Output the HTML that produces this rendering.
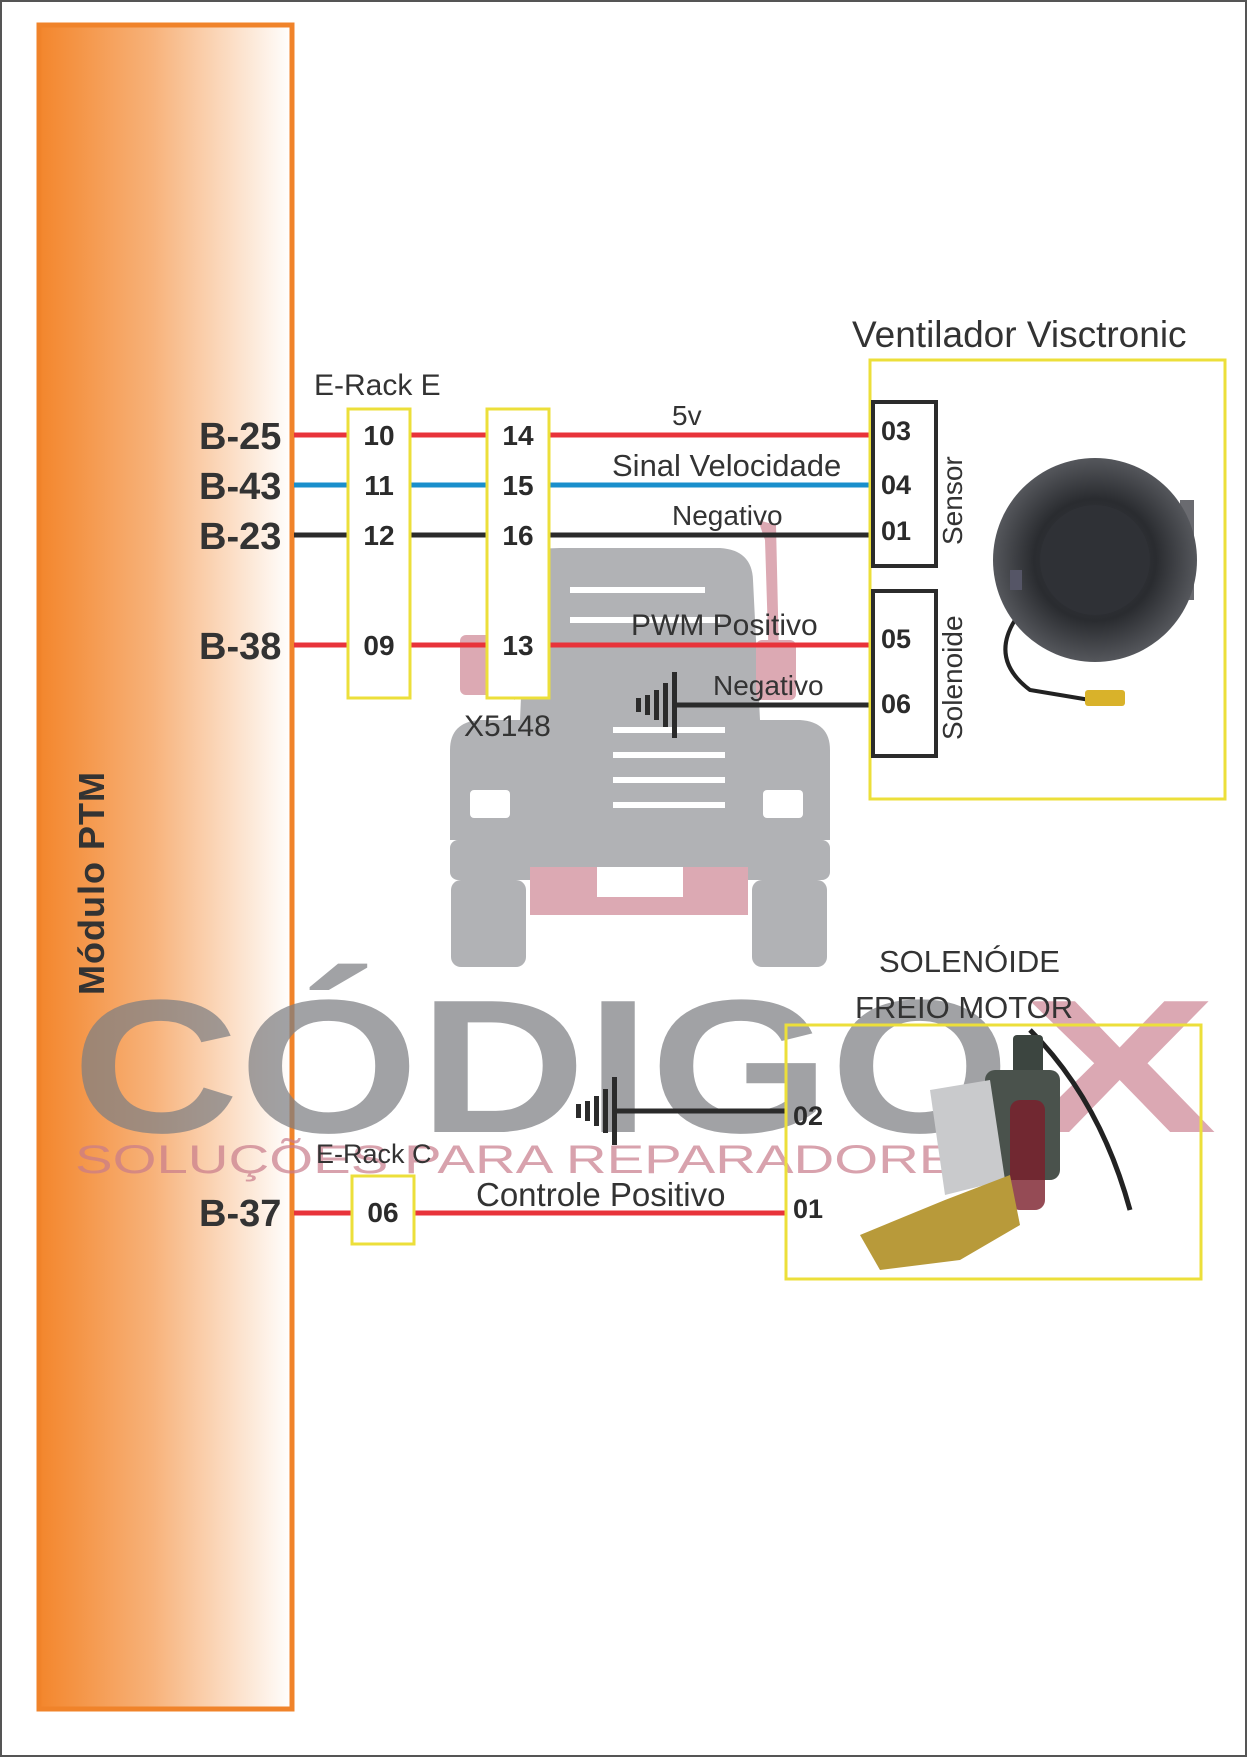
<!DOCTYPE html>
<html><head><meta charset="utf-8"><style>
html,body{margin:0;padding:0;background:#fff}
svg{display:block}
text{font-family:"Liberation Sans",Arial,sans-serif}
</style></head><body>
<svg width="1247" height="1757" viewBox="0 0 1247 1757" xmlns="http://www.w3.org/2000/svg">
<defs>
<linearGradient id="og" x1="0" x2="1" y1="0" y2="0">
<stop offset="0" stop-color="#f3862c"/>
<stop offset="0.45" stop-color="#f7b27a"/>
<stop offset="1" stop-color="#ffffff"/>
</linearGradient>
<radialGradient id="fan" cx="0.5" cy="0.5" r="0.5">
<stop offset="0" stop-color="#3a3c42"/>
<stop offset="0.6" stop-color="#2a2c30"/>
<stop offset="1" stop-color="#55575c"/>
</radialGradient>
</defs>
<rect x="1" y="1" width="1245" height="1755" fill="#fff" stroke="#555" stroke-width="2"/>
<rect x="39" y="25" width="253" height="1684" fill="url(#og)"/>
<rect x="39" y="25" width="253" height="1684" fill="none" stroke="#f0832a" stroke-width="5"/>
<text transform="translate(104,995) rotate(-90)" font-size="36" font-weight="bold" fill="#333" letter-spacing="1">Módulo PTM</text>

<g opacity="0.9">
<path d="M527 560 Q530 548 560 548 L720 548 Q752 550 753 580 L760 720 L800 720 Q830 722 830 750 L830 840 L450 840 L450 750 Q450 722 480 720 L520 720 Z" fill="#a9aaad"/>
<rect x="450" y="840" width="380" height="40" rx="8" fill="#a9aaad"/>
<rect x="451" y="880" width="75" height="87" rx="10" fill="#a9aaad"/>
<rect x="752" y="880" width="75" height="87" rx="10" fill="#a9aaad"/>
<rect x="530" y="867" width="218" height="48" fill="#d9a0ab"/>
<rect x="597" y="867" width="86" height="30" fill="#fff"/>
<rect x="470" y="790" width="40" height="28" rx="4" fill="#fff"/>
<rect x="763" y="790" width="40" height="28" rx="4" fill="#fff"/>
<g stroke="#fff" stroke-width="6">
<line x1="613" y1="730" x2="725" y2="730"/><line x1="613" y1="755" x2="725" y2="755"/><line x1="613" y1="780" x2="725" y2="780"/><line x1="613" y1="805" x2="725" y2="805"/>
<line x1="570" y1="590" x2="705" y2="590"/><line x1="570" y1="620" x2="720" y2="620"/>
</g>
<path d="M497 515 L500 690 L515 700 L515 640 L510 520 Z" fill="#d9a0ab"/>
<rect x="460" y="635" width="35" height="60" rx="6" fill="#d9a0ab"/>
<path d="M758 520 L765 540 L770 700 L780 700 L776 525 Z" fill="#d9a0ab"/>
<rect x="756" y="640" width="40" height="60" rx="6" fill="#d9a0ab"/>
</g>

<text x="72" y="1132" font-size="190" font-weight="bold" fill="#7d7e82" fill-opacity="0.72" textLength="938" lengthAdjust="spacingAndGlyphs">CÓDIGO</text>
<text x="1022" y="1132" font-size="190" font-weight="bold" fill="#c77a8a" fill-opacity="0.65" textLength="195" lengthAdjust="spacingAndGlyphs">X</text>
<text x="75" y="1173" font-size="40" fill="#c77a8a" fill-opacity="0.7" textLength="919" lengthAdjust="spacingAndGlyphs">SOLUÇÕES PARA REPARADORES</text>

<g stroke-width="5" fill="none">
<line x1="294" y1="435" x2="871" y2="435" stroke="#e8333a"/>
<line x1="294" y1="485" x2="871" y2="485" stroke="#1a8fcc"/>
<line x1="294" y1="535" x2="871" y2="535" stroke="#2b2b2b"/>
<line x1="294" y1="645" x2="871" y2="645" stroke="#e8333a"/>
<line x1="674" y1="705" x2="871" y2="705" stroke="#2b2b2b"/>
<line x1="294" y1="1213" x2="787" y2="1213" stroke="#e8333a"/>
<line x1="614" y1="1111" x2="787" y2="1111" stroke="#2b2b2b"/>
</g>
<g fill="#fff" stroke="#ecdf3a" stroke-width="3">
<rect x="348" y="409" width="62" height="289"/>
<rect x="487" y="409" width="62" height="289"/>
<rect x="352" y="1176" width="62" height="68"/>
<rect x="870" y="360" width="355" height="439" fill="none"/>
<rect x="786" y="1025" width="415" height="254" fill="none"/>
</g>
<g stroke="#2b2b2b" stroke-width="4" fill="#fff">
<rect x="873" y="402" width="63" height="164"/>
<rect x="873" y="591" width="63" height="165"/>
</g>
<g fill="#2b2b2b">
<rect x="672" y="672" width="5" height="66"/>
<rect x="663" y="683" width="5" height="44"/>
<rect x="654" y="690" width="5" height="30"/>
<rect x="645" y="695" width="5" height="20"/>
<rect x="636" y="698" width="5" height="14"/>
<rect x="612" y="1077" width="5" height="68"/>
<rect x="603" y="1089" width="5" height="44"/>
<rect x="594" y="1096" width="5" height="30"/>
<rect x="585" y="1101" width="5" height="20"/>
<rect x="576" y="1104" width="5" height="14"/>
</g>
<g fill="#333" font-weight="bold" font-size="38">
<text x="199" y="449">B-25</text><text x="199" y="499">B-43</text><text x="199" y="549">B-23</text><text x="199" y="659">B-38</text><text x="199" y="1226">B-37</text>
</g>
<g fill="#2b2b2b" font-weight="bold" font-size="28" text-anchor="middle">
<text x="379" y="445">10</text><text x="379" y="495">11</text><text x="379" y="545">12</text><text x="379" y="655">09</text>
<text x="518" y="445">14</text><text x="518" y="495">15</text><text x="518" y="545">16</text><text x="518" y="655">13</text>
<text x="383" y="1222">06</text>
</g>
<g fill="#2b2b2b" font-weight="bold" font-size="27">
<text x="881" y="440">03</text><text x="881" y="494">04</text><text x="881" y="540">01</text><text x="881" y="648">05</text><text x="881" y="713">06</text>
<text x="793" y="1125">02</text><text x="793" y="1218">01</text>
</g>
<g fill="#333" font-size="28">
<text x="314" y="395" font-size="30">E-Rack E</text>
<text x="852" y="347" font-size="37">Ventilador Visctronic</text>
<text x="672" y="425">5v</text>
<text x="612" y="476" font-size="31">Sinal Velocidade</text>
<text x="672" y="525">Negativo</text>
<text x="631" y="635" font-size="30">PWM Positivo</text>
<text x="713" y="695">Negativo</text>
<text x="464" y="736" font-size="30">X5148</text>
<text x="879" y="972" font-size="31">SOLENÓIDE</text>
<text x="855" y="1018" font-size="31">FREIO MOTOR</text>
<text x="316" y="1163" font-size="27">E-Rack C</text>
<text x="476" y="1206" font-size="33">Controle Positivo</text>
<text transform="translate(962,545) rotate(-90)" font-size="28">Sensor</text>
<text transform="translate(962,740) rotate(-90)" font-size="28">Solenoide</text>
</g>
<g>
<path d="M1015 620 Q990 660 1030 690 L1090 700" stroke="#222" stroke-width="4" fill="none"/>
<rect x="1085" y="690" width="40" height="16" rx="3" fill="#d9b22a"/>
<rect x="1180" y="500" width="14" height="100" fill="#6a6b70"/>
<circle cx="1095" cy="560" r="102" fill="url(#fan)"/>
<circle cx="1095" cy="560" r="55" fill="#2f3136"/>
<rect x="1010" y="570" width="12" height="20" fill="#556"/>
</g>
<g>
<path d="M1030 1030 Q1100 1100 1130 1210" stroke="#222" stroke-width="5" fill="none"/>
<rect x="1013" y="1035" width="30" height="45" rx="4" fill="#3c4540"/>
<rect x="985" y="1070" width="75" height="110" rx="10" fill="#4a524c"/>
<rect x="1010" y="1100" width="35" height="110" rx="10" fill="#7a1e2a" opacity="0.8"/>
<path d="M930 1090 L990 1080 L1005 1180 L945 1195 Z" fill="#c9cacc"/>
<path d="M860 1235 L945 1200 L1010 1175 L1020 1225 L960 1260 L880 1270 Z" fill="#b89a3a"/>
</g>
</svg>
</body></html>
